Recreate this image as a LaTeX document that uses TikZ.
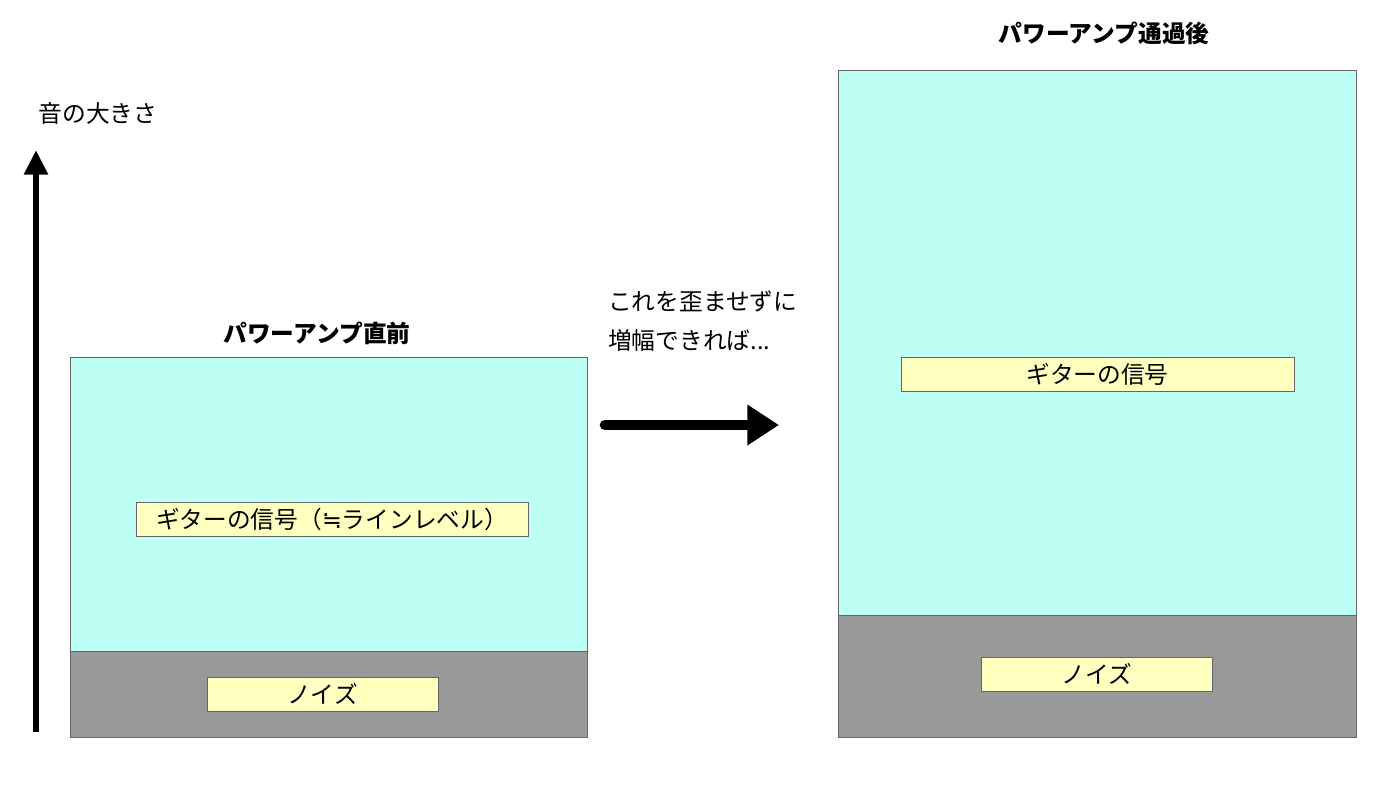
\documentclass[tikz,border=0pt]{standalone}
\usepackage{fontspec}
\setmainfont{Noto Sans CJK JP}
\newfontfamily\symfont{DejaVu Sans}
\usetikzlibrary{positioning,arrows.meta}
\definecolor{sigcyan}{HTML}{BDFFF5}
\definecolor{noisegray}{HTML}{999999}
\definecolor{tagyellow}{HTML}{FFFFC0}
\tikzset{
	box/.style={draw=black!60,line width=0.4pt},
	tag/.style={draw=black!60,fill=tagyellow,inner sep=0pt,font=\fontsize{13.5}{15}\selectfont},
	title/.style={font=\fontsize{13.5}{15}\selectfont\bfseries},
	txt/.style={font=\fontsize{13.5}{15}\selectfont,align=left}
}
\begin{document}
\begin{tikzpicture}[x=0.02cm,y=-0.02cm]
	\useasboundingbox (0,0) rectangle (1400,788);
	%BEFORE
	\filldraw[box,fill=sigcyan] (70,357) rectangle (587,651);
	\filldraw[box,fill=noisegray] (70,651) rectangle (587,737);
	\node[tag,minimum width=7.84cm,minimum height=0.68cm] (sigA) at (332,519) {ギターの信号（{\symfont ≒}ラインレベル）};
	\node[tag,minimum width=4.62cm,minimum height=0.68cm] (noiseA) at (322.5,694) {ノイズ};
	\node[title] (titleA) at (317,333) {パワーアンプ直前};
	%AFTER
	\filldraw[box,fill=sigcyan] (838,70) rectangle (1356,615);
	\filldraw[box,fill=noisegray] (838,615) rectangle (1356,737);
	\node[tag,minimum width=7.86cm,minimum height=0.68cm] (sigB) at (1097.5,374) {ギターの信号};
	\node[tag,minimum width=4.62cm,minimum height=0.68cm] (noiseB) at (1096.5,674) {ノイズ};
	\node[title] (titleB) at (1104,33) {パワーアンプ通過後};
	%AXIS
	\coordinate (axisbot) at (36,732);
	\coordinate (axistop) at (36,150);
	\draw[line width=3.5pt,-{Triangle[length=14pt,width=13pt]}] (axisbot) -- (axistop);
	\node[txt] (axislbl) at (98,113) {音の大きさ};
	%AMPLIFY
	\coordinate (arrA) at (605,425);
	\coordinate (arrB) at (779,425);
	\draw[line width=6pt,line cap=round,-{Triangle[length=18pt,width=22pt]}] (arrA) -- (arrB);
	\node[txt,anchor=west] (note) at (602,321) {これを歪ませずに\\[7pt]増幅できれば...};
\end{tikzpicture}
\end{document}
